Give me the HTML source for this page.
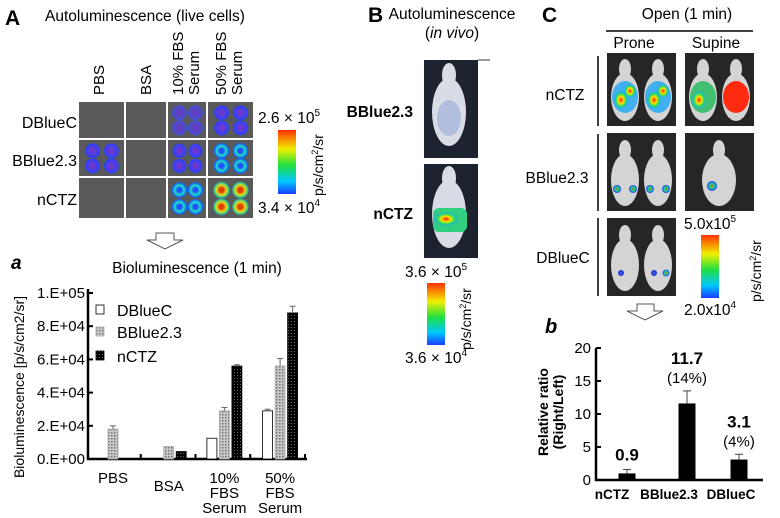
<!DOCTYPE html>
<html><head><meta charset="utf-8">
<style>
html,body{margin:0;padding:0;background:#fff;}
svg{display:block;font-family:"Liberation Sans",Arial,sans-serif;}
</style></head>
<body>
<svg id="fig" width="780" height="518" viewBox="0 0 780 518" xmlns="http://www.w3.org/2000/svg">
<defs>
  <linearGradient id="cbar" x1="0" y1="1" x2="0" y2="0">
    <stop offset="0" stop-color="#1a3cff"/><stop offset="0.2" stop-color="#00c8ff"/>
    <stop offset="0.45" stop-color="#20e040"/><stop offset="0.7" stop-color="#f0f000"/>
    <stop offset="1" stop-color="#ff3000"/>
  </linearGradient>
  <radialGradient id="wellBlue"><stop offset="0.3" stop-color="#6a3ad0"/><stop offset="0.8" stop-color="#2a40ff"/><stop offset="1" stop-color="#555" stop-opacity="0"/></radialGradient>
  <radialGradient id="wellCyan"><stop offset="0.25" stop-color="#2050ff"/><stop offset="0.55" stop-color="#20e0c0"/><stop offset="0.85" stop-color="#1060ff"/><stop offset="1" stop-color="#555" stop-opacity="0"/></radialGradient>
  <radialGradient id="wellHot"><stop offset="0.25" stop-color="#e04000"/><stop offset="0.55" stop-color="#e0e020"/><stop offset="0.85" stop-color="#20c0a0"/><stop offset="1" stop-color="#555" stop-opacity="0"/></radialGradient>
  <radialGradient id="wellDim"><stop offset="0.4" stop-color="#6040c0"/><stop offset="0.9" stop-color="#4050d0"/><stop offset="1" stop-color="#555" stop-opacity="0"/></radialGradient>
  <radialGradient id="hot"><stop offset="0" stop-color="#ff2000"/><stop offset="0.4" stop-color="#ffe000"/><stop offset="0.7" stop-color="#20e060"/><stop offset="1" stop-color="#30a0ff" stop-opacity="0.6"/></radialGradient>
  <radialGradient id="spot"><stop offset="0" stop-color="#ff3000"/><stop offset="0.4" stop-color="#20e080"/><stop offset="1" stop-color="#2040ff"/></radialGradient>
  <radialGradient id="spotB"><stop offset="0" stop-color="#4060ff"/><stop offset="1" stop-color="#2030c0"/></radialGradient>
  <pattern id="dots" width="3" height="3" patternUnits="userSpaceOnUse"><rect width="3" height="3" fill="#c8c8c8"/><rect width="1.5" height="1.5" fill="#777"/></pattern>
  <pattern id="blackdots" width="3" height="3" patternUnits="userSpaceOnUse"><rect width="3" height="3" fill="#000"/><rect width="1" height="1" fill="#666"/></pattern>
</defs>

<!-- PANEL A -->
<g>
  <text x="5" y="25" font-size="21" font-weight="bold">A</text>
  <text x="45" y="21" font-size="15.5">Autoluminescence  (live cells)</text>
  <g font-size="15">
    <text transform="translate(104,95) rotate(-90)">PBS</text>
    <text transform="translate(151,95) rotate(-90)">BSA</text>
    <text transform="translate(183,95) rotate(-90)">10% FBS</text>
    <text transform="translate(199,95) rotate(-90)">Serum</text>
    <text transform="translate(226,95) rotate(-90)">50% FBS</text>
    <text transform="translate(242,95) rotate(-90)">Serum</text>
  </g>
  <g font-size="16" text-anchor="end">
    <text x="77" y="128">DBlueC</text>
    <text x="77" y="166">BBlue2.3</text>
    <text x="77" y="205">nCTZ</text>
  </g>
  <g>
    <rect x="79" y="102" width="45" height="36" fill="#5a5a5a"/><rect x="126" y="102" width="40" height="36" fill="#5a5a5a"/>
    <rect x="168" y="102" width="38" height="36" fill="#5a5a5a"/><rect x="208" y="102" width="45" height="36" fill="#5a5a5a"/>
    <rect x="79" y="140" width="45" height="36" fill="#5a5a5a"/><rect x="126" y="140" width="40" height="36" fill="#5a5a5a"/>
    <rect x="168" y="140" width="38" height="36" fill="#5a5a5a"/><rect x="208" y="140" width="45" height="36" fill="#5a5a5a"/>
    <rect x="79" y="178" width="45" height="40" fill="#5a5a5a"/><rect x="126" y="178" width="40" height="40" fill="#5a5a5a"/>
    <rect x="168" y="178" width="38" height="40" fill="#5a5a5a"/><rect x="208" y="178" width="45" height="40" fill="#5a5a5a"/>
    <circle cx="179.4" cy="112.8" r="8" fill="url(#wellDim)"/><circle cx="195.4" cy="112.8" r="8" fill="url(#wellDim)"/>
    <circle cx="179.4" cy="127.9" r="8" fill="url(#wellDim)"/><circle cx="195.4" cy="127.9" r="8" fill="url(#wellDim)"/>
    <circle cx="221.5" cy="112.8" r="8.5" fill="url(#wellBlue)"/><circle cx="240.4" cy="112.8" r="8.5" fill="url(#wellBlue)"/>
    <circle cx="221.5" cy="127.9" r="8.5" fill="url(#wellBlue)"/><circle cx="240.4" cy="127.9" r="8.5" fill="url(#wellBlue)"/>
    <circle cx="92.5" cy="150.8" r="8.5" fill="url(#wellBlue)"/><circle cx="111.4" cy="150.8" r="8.5" fill="url(#wellBlue)"/>
    <circle cx="92.5" cy="165.9" r="8.5" fill="url(#wellBlue)"/><circle cx="111.4" cy="165.9" r="8.5" fill="url(#wellBlue)"/>
    <circle cx="179.4" cy="150.8" r="8" fill="url(#wellBlue)"/><circle cx="195.4" cy="150.8" r="8" fill="url(#wellBlue)"/>
    <circle cx="179.4" cy="165.9" r="8" fill="url(#wellBlue)"/><circle cx="195.4" cy="165.9" r="8" fill="url(#wellBlue)"/>
    <circle cx="221.5" cy="150.8" r="8.5" fill="url(#wellCyan)"/><circle cx="240.4" cy="150.8" r="8.5" fill="url(#wellCyan)"/>
    <circle cx="221.5" cy="165.9" r="8.5" fill="url(#wellCyan)"/><circle cx="240.4" cy="165.9" r="8.5" fill="url(#wellCyan)"/>
    <circle cx="179.4" cy="190" r="8.5" fill="url(#wellCyan)"/><circle cx="195.4" cy="190" r="8.5" fill="url(#wellCyan)"/>
    <circle cx="179.4" cy="206.8" r="8.5" fill="url(#wellCyan)"/><circle cx="195.4" cy="206.8" r="8.5" fill="url(#wellCyan)"/>
    <circle cx="221.5" cy="190" r="9" fill="url(#wellHot)"/><circle cx="240.4" cy="190" r="9" fill="url(#wellHot)"/>
    <circle cx="221.5" cy="206.8" r="9" fill="url(#wellHot)"/><circle cx="240.4" cy="206.8" r="9" fill="url(#wellHot)"/>
  </g>
  <rect x="278" y="130" width="18" height="64" fill="url(#cbar)"/>
  <text x="258" y="123" font-size="15.5">2.6 × 10<tspan font-size="10" dy="-7">5</tspan></text>
  <text x="258" y="213" font-size="15.5">3.4 × 10<tspan font-size="10" dy="-7">4</tspan></text>
  <text transform="translate(323,196) rotate(-90)" font-size="14">p/s/cm<tspan font-size="9" dy="-5">2</tspan><tspan dy="5">/sr</tspan></text>
  <path d="M156,233 H174 V240 H183 L165,249 L147,240 H156 Z" fill="#fff" stroke="#555"/>
</g>

<!-- CHART a -->
<g>
  <text x="11" y="269" font-size="19" font-weight="bold" font-style="italic">a</text>
  <text x="197" y="273" font-size="15.5" text-anchor="middle">Bioluminescence  (1 min)</text>
  <text transform="translate(24,387) rotate(-90)" font-size="14" text-anchor="middle">Bioluminescence [p/s/cm2/sr]</text>
  <g id="chartA">
    <path d="M88,289 V459 H307" fill="none" stroke="#000" stroke-width="2.5"/>
    <g font-size="15" text-anchor="end">
      <line x1="88" x2="93" y1="459" y2="459" stroke="#000" stroke-width="2"/><text x="85" y="464">0.E+00</text>
      <line x1="88" x2="93" y1="425.8" y2="425.8" stroke="#000" stroke-width="2"/><text x="85" y="430.8">2.E+04</text>
      <line x1="88" x2="93" y1="392.6" y2="392.6" stroke="#000" stroke-width="2"/><text x="85" y="397.6">4.E+04</text>
      <line x1="88" x2="93" y1="359.4" y2="359.4" stroke="#000" stroke-width="2"/><text x="85" y="364.4">6.E+04</text>
      <line x1="88" x2="93" y1="326.2" y2="326.2" stroke="#000" stroke-width="2"/><text x="85" y="331.2">8.E+04</text>
      <line x1="88" x2="93" y1="293" y2="293" stroke="#000" stroke-width="2"/><text x="85" y="298">1.E+05</text>
    </g>
    <g stroke="#000" stroke-width="2"><line x1="140.75" x2="140.75" y1="459" y2="454"/><line x1="195.5" x2="195.5" y1="459" y2="454"/><line x1="250.25" x2="250.25" y1="459" y2="454"/><line x1="305" x2="305" y1="459" y2="454"/></g>
    <rect x="95.5" y="458.5" width="10" height="0.5" fill="#fff" stroke="#000" stroke-width="0.8"/>
    <rect x="108" y="429.1" width="10" height="29.9" fill="url(#dots)" stroke="#aaa" stroke-width="0.8"/>
    <rect x="163.7" y="446.6" width="10" height="12.4" fill="url(#dots)" stroke="#aaa" stroke-width="0.8"/>
    <rect x="176.2" y="451.5" width="10" height="7.5" fill="url(#blackdots)" stroke="#000" stroke-width="0.8"/>
    <rect x="206.9" y="438.3" width="10" height="20.7" fill="#fff" stroke="#000" stroke-width="0.8"/>
    <rect x="219.4" y="410.9" width="10" height="48.1" fill="url(#dots)" stroke="#aaa" stroke-width="0.8"/>
    <rect x="231.9" y="366" width="10" height="93" fill="url(#blackdots)" stroke="#000" stroke-width="0.8"/>
    <rect x="262.6" y="410.9" width="10" height="48.1" fill="#fff" stroke="#000" stroke-width="0.8"/>
    <rect x="275.1" y="366" width="10" height="93" fill="url(#dots)" stroke="#aaa" stroke-width="0.8"/>
    <rect x="287.6" y="312.9" width="10" height="146.1" fill="url(#blackdots)" stroke="#000" stroke-width="0.8"/>
    <g font-size="15" text-anchor="middle">
      <text x="113" y="483">PBS</text><text x="168.7" y="491">BSA</text>
      <text x="224.4" y="483">10%</text><text x="224.4" y="498">FBS</text><text x="224.4" y="513">Serum</text>
      <text x="280.1" y="483">50%</text><text x="280.1" y="498">FBS</text><text x="280.1" y="513">Serum</text>
    </g>
    <rect x="96" y="305" width="8" height="9" fill="#fff" stroke="#000" stroke-width="0.8"/><text x="117" y="316" font-size="16">DBlueC</text>
    <rect x="96" y="327" width="8" height="9" fill="url(#dots)" stroke="#aaa" stroke-width="0.8"/><text x="117" y="338" font-size="16">BBlue2.3</text>
    <rect x="96" y="351" width="8" height="9" fill="url(#blackdots)" stroke="#000" stroke-width="0.8"/><text x="117" y="362" font-size="16">nCTZ</text>
  </g>
</g>

<!-- PANEL B -->
<g>
  <text x="368" y="22" font-size="21" font-weight="bold">B</text>
  <text x="452" y="19" font-size="15.5" text-anchor="middle">Autoluminescence</text>
  <text x="452" y="38" font-size="15.5" text-anchor="middle">(<tspan font-style="italic">in vivo</tspan>)</text>
  <line x1="478" y1="60" x2="490" y2="60" stroke="#333"/>
  <g>
    <rect x="424" y="60" width="54" height="98" fill="#1c2230"/>
    <ellipse cx="449" cy="112" rx="17" ry="34" fill="#d8dce4"/>
    <ellipse cx="449" cy="75" rx="7" ry="12" fill="#d8dce4"/>
    <ellipse cx="449" cy="118" rx="12" ry="18" fill="#8aa0d8" opacity="0.5"/>
  </g>
  <g>
    <rect x="424" y="164" width="54" height="94" fill="#1c2230"/>
    <ellipse cx="449" cy="214" rx="17" ry="34" fill="#d8dce4"/>
    <ellipse cx="449" cy="178" rx="7" ry="12" fill="#d8dce4"/>
    <rect x="433" y="208" width="34" height="24" rx="6" fill="#30d080"/>
    <ellipse cx="446" cy="219" rx="12" ry="7" fill="url(#hot)"/>
  </g>
  <text x="413" y="117" font-size="15.5" font-weight="bold" text-anchor="end">BBlue2.3</text>
  <text x="413" y="219" font-size="15.5" font-weight="bold" text-anchor="end">nCTZ</text>
  <rect x="427" y="283" width="18" height="62" fill="url(#cbar)"/>
  <text x="405" y="277" font-size="15.5">3.6 × 10<tspan font-size="10" dy="-7">5</tspan></text>
  <text x="405" y="363" font-size="15.5">3.6 × 10<tspan font-size="10" dy="-7">4</tspan></text>
  <text transform="translate(471,350) rotate(-90)" font-size="14">p/s/cm<tspan font-size="9" dy="-5">2</tspan><tspan dy="5">/sr</tspan></text>
</g>

<!-- PANEL C -->
<g>
  <text x="542" y="22" font-size="21" font-weight="bold">C</text>
  <text x="687" y="19" font-size="15.5" text-anchor="middle">Open   (1 min)</text>
  <line x1="606" y1="31" x2="753" y2="31" stroke="#000" stroke-width="1.5"/>
  <text x="634" y="48" font-size="15.5" text-anchor="middle">Prone</text>
  <text x="716" y="48" font-size="15.5" text-anchor="middle">Supine</text>
  <g stroke="#000" stroke-width="1.5">
    <line x1="598" y1="56" x2="598" y2="126"/>
    <line x1="598" y1="134" x2="598" y2="211"/>
    <line x1="598" y1="218" x2="598" y2="296"/>
  </g>
  <g font-size="15.5" text-anchor="middle">
    <text x="565" y="100">nCTZ</text>
    <text x="557" y="183">BBlue2.3</text>
    <text x="563" y="263">DBlueC</text>
  </g>
  <g>
    <rect x="607" y="53" width="69" height="73" fill="#262626"/>
    <ellipse cx="625" cy="97" rx="14" ry="24" fill="#d4d4d4"/><ellipse cx="625" cy="69" rx="6" ry="10" fill="#d4d4d4"/>
    <ellipse cx="658" cy="97" rx="14" ry="24" fill="#d4d4d4"/><ellipse cx="658" cy="69" rx="6" ry="10" fill="#d4d4d4"/>
    <ellipse cx="625" cy="97" rx="13" ry="16" fill="#40b0f0"/><ellipse cx="658" cy="97" rx="13" ry="16" fill="#40b0f0"/>
    <ellipse cx="621" cy="100" rx="7" ry="9" fill="url(#hot)"/><ellipse cx="630" cy="91" rx="6" ry="7" fill="url(#hot)"/>
    <ellipse cx="654" cy="100" rx="7" ry="9" fill="url(#hot)"/><ellipse cx="663" cy="91" rx="6" ry="7" fill="url(#hot)"/>
    <rect x="685" y="53" width="69" height="73" fill="#262626"/>
    <ellipse cx="703" cy="97" rx="14" ry="24" fill="#d4d4d4"/><ellipse cx="703" cy="69" rx="6" ry="10" fill="#d4d4d4"/>
    <ellipse cx="736" cy="97" rx="14" ry="24" fill="#d4d4d4"/><ellipse cx="736" cy="69" rx="6" ry="10" fill="#d4d4d4"/>
    <ellipse cx="703" cy="97" rx="13" ry="16" fill="#40c070"/><ellipse cx="736" cy="97" rx="13" ry="16" fill="#ff2a10"/>
    <ellipse cx="699" cy="100" rx="7" ry="9" fill="url(#hot)"/>
    <rect x="607" y="133" width="69" height="78" fill="#262626"/>
    <ellipse cx="625" cy="180" rx="14" ry="26" fill="#d4d4d4"/><ellipse cx="625" cy="150" rx="6" ry="10" fill="#d4d4d4"/>
    <ellipse cx="658" cy="180" rx="14" ry="26" fill="#d4d4d4"/><ellipse cx="658" cy="150" rx="6" ry="10" fill="#d4d4d4"/>
    <circle cx="617" cy="189" r="4" fill="url(#spot)"/><circle cx="633" cy="189" r="4" fill="url(#spot)"/>
    <circle cx="650" cy="189" r="4" fill="url(#spot)"/><circle cx="666" cy="189" r="4" fill="url(#spot)"/>
    <rect x="685" y="133" width="69" height="78" fill="#262626"/>
    <ellipse cx="719" cy="180" rx="17" ry="26" fill="#d4d4d4"/><ellipse cx="719" cy="150" rx="6" ry="10" fill="#d4d4d4"/>
    <circle cx="712" cy="186" r="5" fill="url(#spot)"/>
    <rect x="607" y="218" width="69" height="78" fill="#262626"/>
    <ellipse cx="625" cy="265" rx="14" ry="26" fill="#d4d4d4"/><ellipse cx="625" cy="235" rx="6" ry="10" fill="#d4d4d4"/>
    <ellipse cx="658" cy="265" rx="14" ry="26" fill="#d4d4d4"/><ellipse cx="658" cy="235" rx="6" ry="10" fill="#d4d4d4"/>
    <circle cx="621" cy="273" r="3" fill="url(#spotB)"/><circle cx="654" cy="273" r="3" fill="url(#spotB)"/><circle cx="666" cy="273" r="3.5" fill="url(#spot)"/>
  </g>
  <rect x="701" y="235" width="18" height="63" fill="url(#cbar)"/>
  <text x="684" y="229" font-size="15.5">5.0x10<tspan font-size="10" dy="-7">5</tspan></text>
  <text x="684" y="315" font-size="15.5">2.0x10<tspan font-size="10" dy="-7">4</tspan></text>
  <text transform="translate(761,302) rotate(-90)" font-size="14">p/s/cm<tspan font-size="9" dy="-5">2</tspan><tspan dy="5">/sr</tspan></text>
  <path d="M637,304 H654 V311 H663 L645,320 L627,311 H637 Z" fill="#fff" stroke="#555"/>
</g>

<!-- CHART b -->
<g>
  <text x="545" y="333" font-size="20" font-weight="bold" font-style="italic">b</text>
  <text transform="translate(548,412) rotate(-90)" font-size="14" font-weight="bold" text-anchor="middle">Relative ratio</text>
  <text transform="translate(563,412) rotate(-90)" font-size="14" font-weight="bold" text-anchor="middle">(Right/Left)</text>
  <g id="chartB">
    <path d="M596,348 V480 H763" fill="none" stroke="#000" stroke-width="2.5"/>
    <g font-size="15" text-anchor="end">
      <line x1="596" x2="601" y1="480" y2="480" stroke="#000" stroke-width="2"/><text x="591" y="485">0</text>
      <line x1="596" x2="601" y1="447" y2="447" stroke="#000" stroke-width="2"/><text x="591" y="452">5</text>
      <line x1="596" x2="601" y1="414" y2="414" stroke="#000" stroke-width="2"/><text x="591" y="419">10</text>
      <line x1="596" x2="601" y1="381" y2="381" stroke="#000" stroke-width="2"/><text x="591" y="386">15</text>
      <line x1="596" x2="601" y1="348" y2="348" stroke="#000" stroke-width="2"/><text x="591" y="353">20</text>
    </g>
    <rect x="618.5" y="473.4" width="17" height="6.6" fill="#000"/>
    <rect x="678.5" y="403.4" width="17" height="76.6" fill="#000"/>
    <rect x="730.5" y="459.5" width="17" height="20.5" fill="#000"/>
    <g stroke="#444"><line x1="627" x2="627" y1="469.4" y2="473.4"/><line x1="623" x2="631" y1="469.4" y2="469.4"/>
    <line x1="687" x2="687" y1="390.9" y2="403.4"/><line x1="683" x2="691" y1="390.9" y2="390.9"/>
    <line x1="739" x2="739" y1="454.3" y2="459.5"/><line x1="735" x2="743" y1="454.3" y2="454.3"/></g>
    <g text-anchor="middle"><text x="627" y="460.4" font-size="17" font-weight="bold">0.9</text>
    <text x="687" y="363.9" font-size="17" font-weight="bold">11.7</text><text x="687" y="382.9" font-size="15">(14%)</text>
    <text x="739" y="427.3" font-size="17" font-weight="bold">3.1</text><text x="739" y="446.3" font-size="15">(4%)</text>
    <g font-size="13.5" font-weight="bold"><text x="612" y="499">nCTZ</text><text x="669" y="499">BBlue2.3</text><text x="731" y="499">DBlueC</text></g></g>
  </g>
</g>

<script>
// ---- Chart a data ----
var catA = ["PBS","BSA","10%|FBS|Serum","50%|FBS|Serum"];
var seriesNames = ["DBlueC","BBlue2.3","nCTZ"];
var dblueC = [300, 0, 12500, 29000];
var bblue23 = [18000, 7500, 29000, 56000];
var nctz = [0, 4500, 56000, 88000];
var errD = [0, 0, 0, 1000];
var errB = [2000, 0, 2000, 4500];
var errN = [0, 0, 800, 4000];
var ticksA = ["0.E+00","2.E+04","4.E+04","6.E+04","8.E+04","1.E+05"];
var tickValsA = [0, 20000, 40000, 60000, 80000, 100000];

// ---- Chart b data ----
var catB = ["nCTZ","BBlue2.3","DBlueC"];
var ratioB = [1.0, 11.6, 3.1];
var errRatioB = [0.6, 1.9, 0.8];
var labelB = ["0.9","11.7","3.1"];
var pctB = ["","(14%)","(4%)"];
var ticksB = [0, 5, 10, 15, 20];

var NS = "http://www.w3.org/2000/svg";
function mk(tag, attrs, parent){ var e=document.createElementNS(NS,tag); for(var k in attrs) e.setAttribute(k,attrs[k]); parent.appendChild(e); return e; }

function drawA(){
  var g=document.getElementById('chartA');
  while(g.firstChild) g.removeChild(g.firstChild);
  var x0=88, x1=307, yTop=293, yBot=459;
  var y=function(v){ return yBot-(v/100000)*(yBot-yTop); };
  var xc=function(i){ return 113+i*55.7; };
  var ax=mk('path',{d:'M'+x0+','+(yTop-4)+' V'+yBot+' H'+x1,fill:'none',stroke:'#000','stroke-width':2.5},g);
  
  
  tickValsA.forEach(function(v,i){
    mk('line',{x1:x0,x2:x0+5,y1:y(v),y2:y(v),stroke:'#000','stroke-width':2},g);
    var t=mk('text',{x:x0-3,y:y(v)+5,'font-size':15,'text-anchor':'end'},g);
    t.textContent=ticksA[i];
    
    
  });
  for(var i=1;i<5;i++){ var xx=x0+i*(x1-x0)/4-2; mk('line',{x1:xx,x2:xx,y1:yBot,y2:yBot-5,stroke:'#000','stroke-width':2},g); }
  var series=[dblueC,bblue23,nctz], errs=[errD,errB,errN], fills=['#fff','url(#dots)','url(#blackdots)'];
  catA.forEach(function(c,i){
    series.forEach(function(s,j){
      var bx=xc(i)+(j-1)*12.5-5, v=s[i];
      if(v>0){
        var r=mk('rect',{x:bx,y:y(v),width:10,height:yBot-y(v),fill:fills[j],stroke:j==1?'#aaa':'#000','stroke-width':0.8},g);
        
        
      }
      if(errs[j][i]>0){
        var ey=y(v+errs[j][i]);
        mk('line',{x1:bx+5,x2:bx+5,y1:ey,y2:y(v),stroke:'#666','stroke-width':1},g);
        mk('line',{x1:bx+2,x2:bx+8,y1:ey,y2:ey,stroke:'#666','stroke-width':1},g);
      }
    });
    var lines=c.split('|');
    var baseY = i==1 ? 491 : 483;
    lines.forEach(function(ln,k){
      var t=mk('text',{x:xc(i),y:baseY+k*15,'font-size':15,'text-anchor':'middle'},g);
      t.textContent=ln;
      
      
    });
  });
  var ly=[311,333,357];
  seriesNames.forEach(function(n,j){
    var r=mk('rect',{x:96,y:ly[j]-6,width:8,height:9,fill:fills[j],stroke:j==1?'#aaa':'#000','stroke-width':0.8},g);
    
    
    var t=mk('text',{x:117,y:ly[j]+5,'font-size':16},g);
    t.textContent=n;
    
    
  });
}

function drawB(){
  var g=document.getElementById('chartB');
  while(g.firstChild) g.removeChild(g.firstChild);
  var x0=596, x1=763, yTop=348, yBot=480;
  var y=function(v){ return yBot-(v/20)*(yBot-yTop); };
  var xc=[627,687,739];
  var lx=[612,669,731];
  var ax=mk('path',{d:'M'+x0+','+yTop+' V'+yBot+' H'+x1,fill:'none',stroke:'#000','stroke-width':2.5},g);
  
  
  ticksB.forEach(function(v){
    mk('line',{x1:x0,x2:x0+5,y1:y(v),y2:y(v),stroke:'#000','stroke-width':2},g);
    var t=mk('text',{x:x0-5,y:y(v)+5,'font-size':15,'text-anchor':'end'},g);
    t.textContent=String(v);
    
    
  });
  catB.forEach(function(c,i){
    var v=ratioB[i], bx=xc[i]-8.5;
    var r=mk('rect',{x:bx,y:y(v),width:17,height:yBot-y(v),fill:'#000'},g);
    
    
    var ey=y(v+errRatioB[i]);
    mk('line',{x1:xc[i],x2:xc[i],y1:ey,y2:y(v),stroke:'#444','stroke-width':1},g);
    mk('line',{x1:xc[i]-4,x2:xc[i]+4,y1:ey,y2:ey,stroke:'#444','stroke-width':1},g);
    var hasPct=pctB[i]!=="";
    var lab=mk('text',{x:xc[i],y:ey-(hasPct?27:9),'font-size':17,'font-weight':'bold','text-anchor':'middle'},g);
    lab.textContent=labelB[i];
    
    
    if(hasPct){
      var p=mk('text',{x:xc[i],y:ey-8,'font-size':15,'text-anchor':'middle'},g);
      p.textContent=pctB[i];
      
      
    }
    var t=mk('text',{x:lx[i],y:499,'font-size':13.5,'font-weight':'bold','text-anchor':'middle'},g);
    t.textContent=c;
    
    
  });
}
try{ drawA(); }catch(e){}
try{ drawB(); }catch(e){}
</script>
</svg>
</body></html>
